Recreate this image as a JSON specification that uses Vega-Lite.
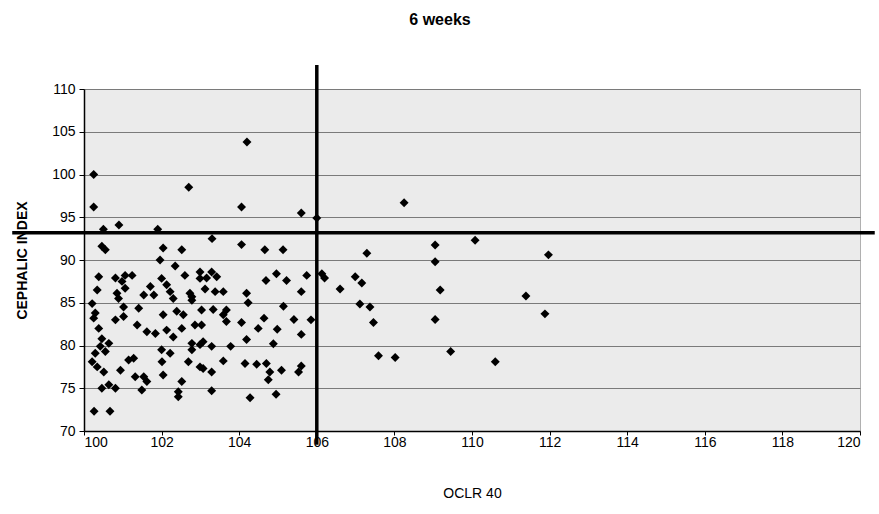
{
  "$schema": "https://vega.github.io/schema/vega-lite/v6.json",
  "autosize": "none",
  "width": 776,
  "height": 342,
  "padding": {"left": 84, "top": 89, "right": 19, "bottom": 83},
  "background": "white",
  "title": {"text": "6 weeks", "fontSize": 16, "font": "Liberation Sans", "fontWeight": "bold", "color": "black", "offset": 35, "dx": -32},
  "config": {
    "view": {"fill": "#ebebeb", "stroke": "#b0b0b0", "strokeWidth": 1},
    "axis": {"labelFont": "Liberation Sans", "titleFont": "Liberation Sans", "labelColor": "black", "titleColor": "black", "domainColor": "black", "tickColor": "black"}
  },
  "datasets": {
    "pts": [
      {"x":100.25,"y":100.0},{"x":100.25,"y":96.2},{"x":102.7,"y":98.5},{"x":104.2,"y":103.8},{"x":104.06,"y":96.2},{"x":105.6,"y":95.5},{"x":106.0,"y":94.9},{"x":108.25,"y":96.7},{"x":100.5,"y":93.6},{"x":100.9,"y":94.1},{"x":101.9,"y":93.6},
      {"x":103.3,"y":92.5},{"x":104.06,"y":91.8},{"x":104.66,"y":91.2},{"x":105.13,"y":91.2},{"x":100.46,"y":91.6},{"x":100.55,"y":91.2},{"x":102.04,"y":91.4},{"x":102.52,"y":91.2},{"x":101.96,"y":90.0},{"x":102.35,"y":89.3},
      {"x":106.13,"y":88.4},{"x":106.2,"y":87.9},{"x":105.74,"y":88.2},{"x":105.6,"y":86.3},{"x":107.29,"y":90.8},{"x":109.05,"y":91.75},{"x":110.08,"y":92.3},{"x":111.97,"y":90.6},{"x":109.05,"y":89.8},{"x":106.99,"y":88.05},{"x":107.16,"y":87.3},{"x":106.6,"y":86.6},{"x":109.18,"y":86.5},{"x":111.39,"y":85.8},{"x":107.11,"y":84.85},{"x":107.37,"y":84.5},{"x":107.46,"y":82.7},{"x":111.88,"y":83.7},{"x":109.05,"y":83.05},{"x":105.85,"y":83.0},{"x":105.6,"y":81.3},{"x":107.59,"y":78.8},{"x":108.02,"y":78.6},{"x":109.45,"y":79.3},{"x":110.6,"y":78.1},{"x":105.6,"y":77.6},
      {"x":104.96,"y":88.4},{"x":104.69,"y":87.6},{"x":105.22,"y":87.6},{"x":104.19,"y":86.1},{"x":104.23,"y":85.0},{"x":103.12,"y":86.6},{"x":103.38,"y":86.3},{"x":103.59,"y":86.3},{"x":102.99,"y":88.6},{"x":103.29,"y":88.6},{"x":103.42,"y":88.05},{"x":103.16,"y":87.9},{"x":105.14,"y":84.6},{"x":103.03,"y":84.15},{"x":103.33,"y":84.2},{"x":103.59,"y":83.6},{"x":103.67,"y":82.8},{"x":104.06,"y":82.7},{"x":104.64,"y":83.2},{"x":105.41,"y":83.05},{"x":104.49,"y":82.0},{"x":104.98,"y":81.9},{"x":102.86,"y":82.4},{"x":103.03,"y":82.4},{"x":104.19,"y":80.7},{"x":103.07,"y":80.45},{"x":103.29,"y":79.9},{"x":103.78,"y":79.9},{"x":102.78,"y":85.7},
      {"x":102.99,"y":80.1},{"x":104.88,"y":80.2},{"x":103.59,"y":78.2},{"x":104.15,"y":77.9},{"x":104.45,"y":77.8},{"x":104.7,"y":77.9},{"x":104.79,"y":76.9},{"x":105.09,"y":77.1},{"x":105.53,"y":76.9},{"x":103.07,"y":77.3},{"x":103.29,"y":76.9},{"x":104.75,"y":76.0},{"x":103.29,"y":74.7},{"x":104.28,"y":73.9},{"x":104.95,"y":74.3},{"x":102.78,"y":79.5},
      {"x":100.38,"y":88.05},{"x":100.81,"y":87.9},{"x":101.06,"y":88.2},{"x":101.24,"y":88.2},{"x":100.98,"y":87.5},{"x":100.34,"y":86.5},{"x":100.85,"y":86.1},{"x":101.06,"y":86.7},{"x":101.71,"y":86.9},{"x":101.54,"y":85.9},{"x":101.8,"y":85.9},{"x":100.21,"y":84.9},{"x":100.89,"y":85.5},{"x":101.41,"y":84.35},{"x":101.02,"y":84.5},{"x":100.29,"y":83.8},{"x":100.25,"y":83.2},{"x":100.81,"y":83.0},{"x":101.02,"y":83.4},{"x":101.37,"y":82.4},{"x":101.62,"y":81.6},{"x":101.84,"y":81.4},{"x":100.38,"y":82.0},{"x":100.46,"y":80.8},{"x":100.64,"y":80.25},{"x":100.42,"y":79.9},{"x":100.29,"y":79.1},{"x":100.55,"y":79.3},{"x":100.21,"y":78.1},{"x":100.34,"y":77.5},{"x":100.51,"y":76.9},{"x":100.94,"y":77.1},{"x":101.15,"y":78.3},{"x":101.28,"y":78.5},{"x":101.32,"y":76.35},{"x":101.62,"y":75.8},{"x":101.54,"y":76.35},{"x":100.64,"y":75.4},{"x":100.46,"y":75.0},{"x":100.81,"y":75.0},{"x":101.49,"y":74.8},{"x":100.26,"y":72.3},{"x":100.67,"y":72.3},{"x":102.01,"y":78.1},
      {"x":102.0,"y":87.85},{"x":102.6,"y":88.2},{"x":102.99,"y":87.85},{"x":102.13,"y":87.1},{"x":102.22,"y":86.3},{"x":102.73,"y":86.1},{"x":102.3,"y":85.5},{"x":102.78,"y":85.3},{"x":102.04,"y":83.6},{"x":102.39,"y":84.0},{"x":102.56,"y":83.6},{"x":103.67,"y":84.15},{"x":102.13,"y":81.8},{"x":102.52,"y":82.0},{"x":102.3,"y":81.0},{"x":102.78,"y":80.25},{"x":102.0,"y":79.5},{"x":102.22,"y":79.1},{"x":102.69,"y":78.1},{"x":102.99,"y":77.5},{"x":102.04,"y":76.55},{"x":102.52,"y":75.8},{"x":102.43,"y":74.6},{"x":102.43,"y":74.0}
    ],
    "hline": [{"x": 98.15, "x2": 120.38, "y": 93.2}],
    "vline": [{"x": 106, "y": 68.4, "y2": 112.8}]
  },
  "layer": [
    {
      "data": {"name": "pts"},
      "mark": {"type": "point", "shape": "diamond", "filled": true, "color": "black", "size": 80, "opacity": 1},
      "encoding": {
        "x": {"field": "x", "type": "quantitative", "scale": {"domain": [100, 120], "nice": false, "zero": false},
          "axis": {"title": "OCLR 40", "titleFontSize": 14, "titleFontWeight": "normal", "titlePadding": 37, "labelFontSize": 14, "values": [100,102,104,106,108,110,112,114,116,118,120], "grid": false, "tickSize": 4, "labelPadding": 0, "domainWidth": 1.5}},
        "y": {"field": "y", "type": "quantitative", "scale": {"domain": [70, 110], "nice": false, "zero": false},
          "axis": {"title": "CEPHALIC INDEX", "titleFontSize": 14, "titleFontWeight": "bold", "titlePadding": 22, "labelFontSize": 14, "values": [70,75,80,85,90,95,100,105,110], "grid": true, "gridColor": "#7a7a7a", "gridWidth": 1, "tickSize": 5, "labelPadding": 4, "domainWidth": 1.5}}
      }
    },
    {
      "data": {"name": "hline"},
      "mark": {"type": "rule", "clip": false, "color": "black", "strokeWidth": 3.5},
      "encoding": {
        "x": {"field": "x", "type": "quantitative"},
        "x2": {"field": "x2"},
        "y": {"field": "y", "type": "quantitative"}
      }
    },
    {
      "data": {"name": "vline"},
      "mark": {"type": "rule", "clip": false, "color": "black", "strokeWidth": 3.5},
      "encoding": {
        "x": {"field": "x", "type": "quantitative"},
        "y": {"field": "y", "type": "quantitative"},
        "y2": {"field": "y2"}
      }
    }
  ]
}
